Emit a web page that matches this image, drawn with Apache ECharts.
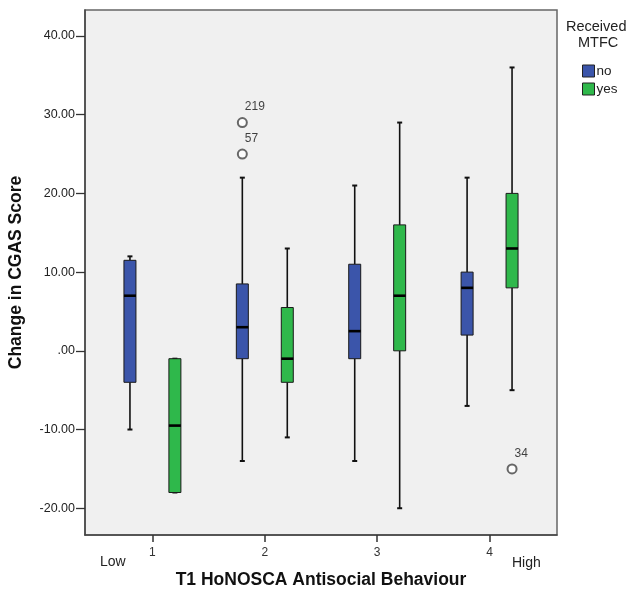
<!DOCTYPE html>
<html>
<head>
<meta charset="utf-8">
<script src="https://cdn.jsdelivr.net/npm/echarts@6/dist/echarts.min.js"></script>
<style>html,body{margin:0;padding:0;background:#fff}#c{width:629px;height:592px}</style>
</head>
<body>
<div id="c"></div>
<script>
// ---- data ----
var categories = [1, 2, 3, 4];
var xTickLabels = ['1', '2', '3', '4'];
var seriesNames = ['no', 'yes'];
// [whiskerLow, Q1, median, Q3, whiskerHigh]
var noStats = [
  [-10, -4, 7, 11.5, 12],
  [-14, -1, 3, 8.5, 22],
  [-14, -1, 2.5, 11, 21],
  [-7, 2, 8, 10, 22]
];
var yesStats = [
  [-18, -18, -9.5, -1, -1],
  [-11, -4, -1, 5.5, 13],
  [-20, 0, 7, 16, 29],
  [-5, 8, 13, 20, 36]
];
// outliers: [category, seriesIndex, value, caseLabel]
var outliers = [
  [2, 0, 29, '219'],
  [2, 0, 25, '57'],
  [4, 1, -15, '34']
];
var yTickValues = [-20, -10, 0, 10, 20, 30, 40];
var yTickLabels = ['-20.00', '-10.00', '.00', '10.00', '20.00', '30.00', '40.00'];

// ---- chart ----
var colors = ['#3b55aa', '#2fb84b'];
var offsets = [-0.2, 0.2];
var FONT = 'Arial, "Liberation Sans", sans-serif';

function boxData(stats, si) {
  return stats.map(function (s, i) {
    return [categories[i] + offsets[si]].concat(s);
  });
}

function renderBox(params, api) {
  var x = api.value(0);
  var pLow = api.coord([x, api.value(1)]);
  var pQ1 = api.coord([x, api.value(2)]);
  var pMed = api.coord([x, api.value(3)]);
  var pQ3 = api.coord([x, api.value(4)]);
  var pHigh = api.coord([x, api.value(5)]);
  var cx = pLow[0];
  var hw = 6, cw = 2.5;
  var color = colors[params.seriesIndex];
  var ls = { stroke: '#111', lineWidth: 1.6 };
  var children = [];
  if (pHigh[1] < pQ3[1] - 0.5) {
    children.push({ type: 'line', shape: { x1: cx, y1: pQ3[1], x2: cx, y2: pHigh[1] }, style: ls });
  }
  children.push({ type: 'line', shape: { x1: cx - cw, y1: pHigh[1], x2: cx + cw, y2: pHigh[1] }, style: { stroke: '#111', lineWidth: 2 } });
  if (pLow[1] > pQ1[1] + 0.5) {
    children.push({ type: 'line', shape: { x1: cx, y1: pQ1[1], x2: cx, y2: pLow[1] }, style: ls });
  }
  children.push({ type: 'line', shape: { x1: cx - cw, y1: pLow[1], x2: cx + cw, y2: pLow[1] }, style: { stroke: '#111', lineWidth: 2 } });
  children.push({ type: 'rect', shape: { x: cx - hw, y: pQ3[1], width: hw * 2, height: pQ1[1] - pQ3[1] },
    style: { fill: color, stroke: '#1a1a1a', lineWidth: 1 } });
  children.push({ type: 'line', shape: { x1: cx - hw, y1: pMed[1], x2: cx + hw, y2: pMed[1] }, style: { stroke: '#000', lineWidth: 2.6 } });
  return { type: 'group', children: children };
}

var series = [
  { name: seriesNames[0], type: 'custom', renderItem: renderBox, data: boxData(noStats, 0),
    itemStyle: { color: colors[0], borderColor: '#1a1a1a', borderWidth: 1 }, encode: { x: 0, y: [1, 2, 3, 4, 5] }, z: 2 },
  { name: seriesNames[1], type: 'custom', renderItem: renderBox, data: boxData(yesStats, 1),
    itemStyle: { color: colors[1], borderColor: '#1a1a1a', borderWidth: 1 }, encode: { x: 0, y: [1, 2, 3, 4, 5] }, z: 2 },
  { type: 'scatter', symbol: 'emptyCircle', symbolSize: 9, z: 3,
    itemStyle: { color: '#444', borderColor: '#444', borderWidth: 1.1 },
    label: { show: true, position: [8, -16], formatter: function (p) { return p.data[2]; },
      color: '#111', fontSize: 12, fontFamily: FONT, textBorderWidth: 0 },
    data: outliers.map(function (o) { return [o[0] + offsets[o[1]], o[2], o[3]]; }) }
];

var chart = echarts.init(document.getElementById('c'), null, { renderer: 'canvas' });
chart.setOption({
  animation: false,
  backgroundColor: '#ffffff',
  grid: { left: 85, top: 10, right: 72, bottom: 57, show: true, backgroundColor: '#f0f0f0',
    borderColor: '#666', borderWidth: 1.5, containLabel: false, outerBoundsMode: 'none' },
  legend: {
    data: seriesNames, orient: 'vertical', left: 577, top: 59, icon: 'rect', itemWidth: 12, itemHeight: 12,
    itemGap: 4, selectedMode: false,
    itemStyle: { borderColor: '#222', borderWidth: 1 },
    textStyle: { fontSize: 13.5, color: '#222', fontFamily: FONT, padding: [0, 0, 0, -3] }
  },
  graphic: [
    { type: 'text', left: 566, top: 19, style: { text: 'Received', fill: '#222', font: '14.5px ' + FONT } },
    { type: 'text', left: 578, top: 35, style: { text: 'MTFC', fill: '#222', font: '14.5px ' + FONT } },
    { type: 'text', left: 100, top: 555, style: { text: 'Low', fill: '#222', font: '14px ' + FONT } },
    { type: 'text', left: 512, top: 556, style: { text: 'High', fill: '#222', font: '14px ' + FONT } }
  ],
  xAxis: {
    type: 'value', min: 0.4, max: 4.6,
    name: 'T1 HoNOSCA Antisocial Behaviour', nameLocation: 'middle', nameGap: 36,
    nameTextStyle: { fontSize: 17.5, fontWeight: 'bold', color: '#111', fontFamily: FONT },
    axisLine: { show: true, onZero: false, lineStyle: { color: '#444', width: 1.5 } },
    splitLine: { show: false },
    axisTick: { show: true, length: 7, customValues: categories, lineStyle: { color: '#333', width: 1.5 } },
    axisLabel: { customValues: categories, margin: 12, fontSize: 12, color: '#333', fontFamily: FONT,
      formatter: function (v) { return xTickLabels[categories.indexOf(v)]; } }
  },
  yAxis: {
    type: 'value', min: -23.4, max: 43.3,
    name: 'Change in CGAS Score', nameLocation: 'middle', nameGap: 60, nameRotate: 90,
    nameTextStyle: { fontSize: 17.5, fontWeight: 'bold', color: '#111', fontFamily: FONT },
    axisLine: { show: true, onZero: false, lineStyle: { color: '#444', width: 1.5 } },
    splitLine: { show: false },
    axisTick: { show: true, length: 9, customValues: yTickValues, lineStyle: { color: '#333', width: 1.3 } },
    axisLabel: { customValues: yTickValues, margin: 10, fontSize: 12.5, color: '#222', fontFamily: FONT,
      formatter: function (v) { return yTickLabels[yTickValues.indexOf(v)]; } }
  },
  series: series
});
</script>
</body>
</html>
